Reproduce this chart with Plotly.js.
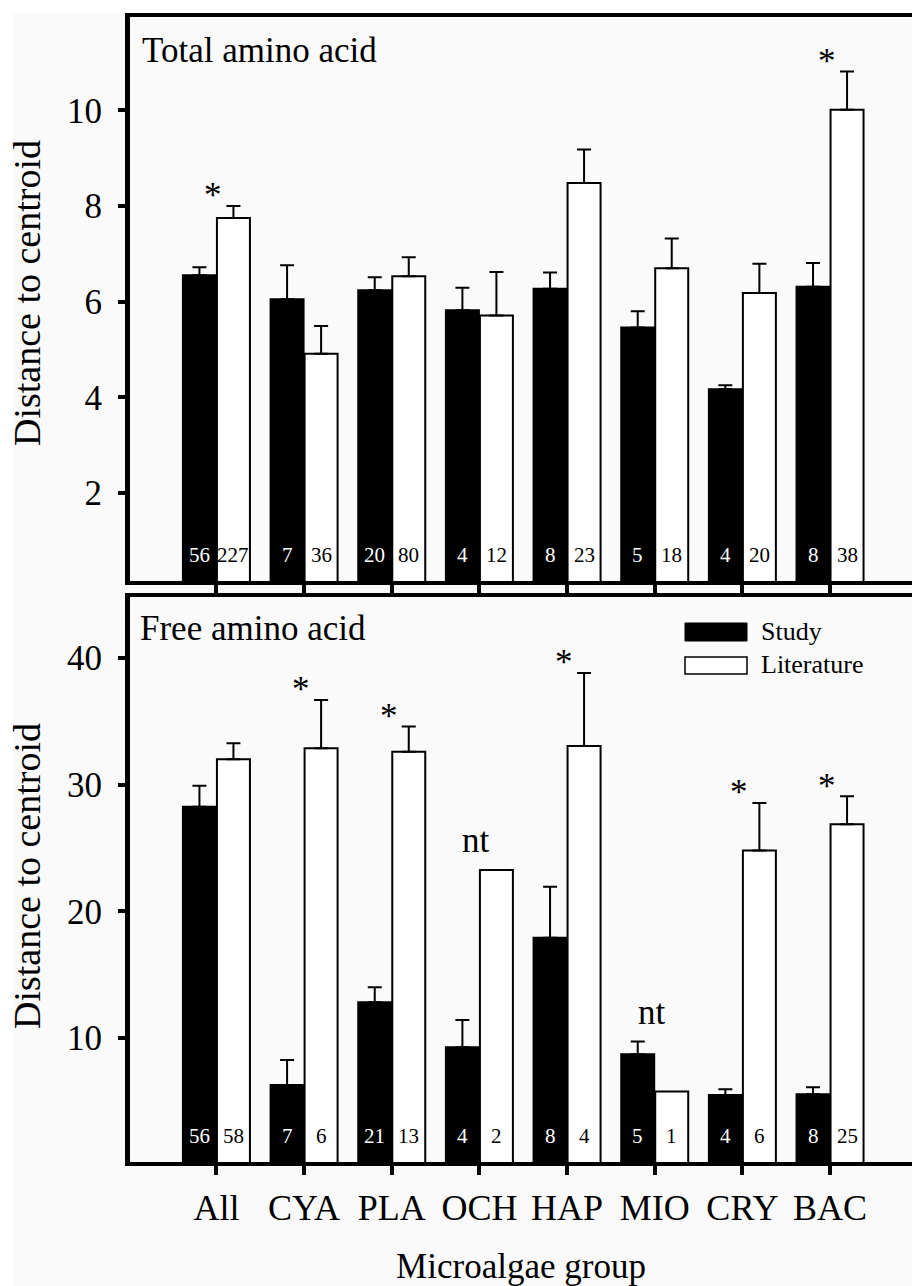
<!DOCTYPE html>
<html>
<head>
<meta charset="utf-8">
<script src="https://cdn.plot.ly/plotly-3.0.1.min.js"></script>
<style>
  html, body { margin: 0; padding: 0; background: #ffffff; }
  #chart { position: absolute; left: 0; top: 0; width: 912px; height: 1286px; }
</style>
</head>
<body>
<div id="chart"></div>
<script>
// ---------------- data ----------------
const groups = ["All", "CYA", "PLA", "OCH", "HAP", "MIO", "CRY", "BAC"];
const seriesNames = ["Study", "Literature"];

const totalStudyMean = [6.55, 6.05, 6.24, 5.82, 6.27, 5.46, 4.17, 6.31];
const totalStudyErr  = [0.17, 0.71, 0.27, 0.47, 0.34, 0.34, 0.08, 0.50];
const totalLitMean   = [7.75, 4.91, 6.53, 5.71, 8.48, 6.70, 6.18, 10.01];
const totalLitErr    = [0.25, 0.58, 0.40, 0.91, 0.70, 0.62, 0.61, 0.80];
const totalStudyN    = [56, 7, 20, 4, 8, 5, 4, 8];
const totalLitN      = [227, 36, 80, 12, 23, 18, 20, 38];
const totalSig       = ["*", "", "", "", "", "", "", "*"];
const totalTicks     = [2, 4, 6, 8, 10];

const freeStudyMean  = [28.27, 6.29, 12.82, 9.27, 17.92, 8.71, 5.50, 5.55];
const freeStudyErr   = [1.66, 1.97, 1.18, 2.15, 4.03, 1.00, 0.45, 0.55];
const freeLitMean    = [32.01, 32.88, 32.60, 23.27, 33.06, 5.76, 24.80, 26.88];
const freeLitErr     = [1.27, 3.82, 2.00, null, 5.77, null, 3.76, 2.22];
const freeStudyN     = [56, 7, 21, 4, 8, 5, 4, 8];
const freeLitN       = [58, 6, 13, 2, 4, 1, 6, 25];
const freeSig        = ["", "*", "*", "nt", "*", "nt", "*", "*"];
const freeTicks      = [10, 20, 30, 40];

const panelTitles = ["Total amino acid", "Free amino acid"];
const yTitle = "Distance to centroid";
const xTitle = "Microalgae group";

// ---------------- layout helpers ----------------
const FONT = "'Times New Roman', 'Liberation Serif', serif";
const W = 912, H = 1286, ML = 130, MR = 0, MT = 17, MB = 124;
const PW = W - ML - MR, PH = H - MT - MB;
function pxX(pageX) { return (pageX - ML) / PW; }
function pxY(pageY) { return (H - MB - pageY) / PH; }

function errCfg(errs) {
  return {
    type: "data", symmetric: false,
    array: errs.map(e => (e === null ? NaN : e)),
    arrayminus: errs.map(e => (e === null ? NaN : 0)),
    color: "#000", thickness: 2, width: 7
  };
}

function barTrace(name, means, errs, xa, ya, fill) {
  return {
    type: "bar", name: name, x: groups, y: means,
    xaxis: xa, yaxis: ya, showlegend: false,
    marker: { color: fill, line: { color: "#000", width: 2 } },
    error_y: errCfg(errs), hoverinfo: "x+y"
  };
}

const traces = [
  barTrace(seriesNames[0], totalStudyMean, totalStudyErr, "x", "y", "#000000"),
  barTrace(seriesNames[1], totalLitMean, totalLitErr, "x", "y", "#ffffff"),
  barTrace(seriesNames[0], freeStudyMean, freeStudyErr, "x2", "y2", "#000000"),
  barTrace(seriesNames[1], freeLitMean, freeLitErr, "x2", "y2", "#ffffff")
];

const annotations = [];
const BAR_OFF = 17;
function addN(studyN, litN, xref, yref) {
  groups.forEach((g, i) => {
    annotations.push({ x: g, xref: xref, xshift: -BAR_OFF, y: 0, yref: yref + " domain",
      yshift: 26, yanchor: "middle", text: String(studyN[i]), showarrow: false,
      font: { family: FONT, size: 21, color: "#ffffff" } });
    annotations.push({ x: g, xref: xref, xshift: BAR_OFF, y: 0, yref: yref + " domain",
      yshift: 26, yanchor: "middle", text: String(litN[i]), showarrow: false,
      font: { family: FONT, size: 21, color: "#000000" } });
  });
}
function addSig(sig, sm, se, lm, le, xref, yref) {
  groups.forEach((g, i) => {
    if (!sig[i]) return;
    const top = Math.max(sm[i] + (se[i] || 0), lm[i] + (le[i] || 0));
    annotations.push({ x: g, xref: xref, xshift: -3, y: top, yref: yref,
      yshift: sig[i] === "*" ? 10 : 29, yanchor: "middle", text: sig[i], showarrow: false,
      font: { family: FONT, size: 35, color: "#000" } });
  });
}
addN(totalStudyN, totalLitN, "x", "y");
addN(freeStudyN, freeLitN, "x2", "y2");
addSig(totalSig, totalStudyMean, totalStudyErr, totalLitMean, totalLitErr, "x", "y");
addSig(freeSig, freeStudyMean, freeStudyErr, freeLitMean, freeLitErr, "x2", "y2");

// panel titles
annotations.push({ xref: "paper", yref: "paper", x: pxX(140), y: pxY(50), xanchor: "left", yanchor: "middle",
  text: panelTitles[0], showarrow: false, font: { family: FONT, size: 35, color: "#000" } });
annotations.push({ xref: "paper", yref: "paper", x: pxX(138), y: pxY(628), xanchor: "left", yanchor: "middle",
  text: panelTitles[1], showarrow: false, font: { family: FONT, size: 35, color: "#000" } });

// y-axis titles (rotated text, left of the tick labels)
[293, 876].forEach(cy => {
  annotations.push({ xref: "paper", yref: "paper", x: pxX(27), y: pxY(cy), xanchor: "center", yanchor: "middle",
    textangle: -90, text: yTitle, showarrow: false, font: { family: FONT, size: 38, color: "#000" } });
});

// legend (drawn manually to reproduce wide swatches) + white page border strips
const shapes = [
  { type: "rect", xref: "paper", yref: "paper", layer: "below", x0: pxX(0), x1: pxX(13), y0: pxY(H), y1: pxY(0),
    fillcolor: "#ffffff", line: { width: 0 } },
  { type: "rect", xref: "paper", yref: "paper", layer: "below", x0: pxX(0), x1: pxX(W), y0: pxY(13), y1: pxY(0),
    fillcolor: "#ffffff", line: { width: 0 } },
  { type: "rect", xref: "paper", yref: "paper", x0: pxX(685), x1: pxX(747), y0: pxY(641), y1: pxY(623),
    fillcolor: "#000", line: { color: "#000", width: 1 } },
  { type: "rect", xref: "paper", yref: "paper", x0: pxX(685), x1: pxX(747), y0: pxY(674), y1: pxY(657),
    fillcolor: "#fff", line: { color: "#000", width: 1.5 } }
];
annotations.push({ xref: "paper", yref: "paper", x: pxX(759), y: pxY(631), xanchor: "left", yanchor: "middle",
  text: seriesNames[0], showarrow: false, font: { family: FONT, size: 26, color: "#000" } });
annotations.push({ xref: "paper", yref: "paper", x: pxX(759), y: pxY(664.5), xanchor: "left", yanchor: "middle",
  text: seriesNames[1], showarrow: false, font: { family: FONT, size: 26, color: "#000" } });

function xAxis(showLabels, anchor) {
  const a = {
    type: "category", anchor: anchor, domain: [0, 1], range: [-0.986, 7.935],
    showline: true, linecolor: "#000", linewidth: 4, mirror: true,
    ticks: "outside", ticklen: 9, tickwidth: 4, tickcolor: "#000",
    showgrid: false, zeroline: false, showticklabels: showLabels,
    tickfont: { family: FONT, size: 36, color: "#000" }, fixedrange: true
  };
  if (showLabels) {
    a.ticklabelstandoff = 2;
    a.title = { text: xTitle, font: { family: FONT, size: 35, color: "#000" }, standoff: 32 };
  }
  return a;
}
function yAxis(domain, range, ticks, anchor) {
  return {
    domain: domain, range: range, anchor: anchor, tickmode: "array", tickvals: ticks,
    showline: true, linecolor: "#000", linewidth: 5, mirror: false,
    ticks: "outside", ticklen: 7, tickwidth: 4, tickcolor: "#000",
    showgrid: false, zeroline: false, ticklabelstandoff: 9,
    tickfont: { family: FONT, size: 35, color: "#000" },
    fixedrange: true
  };
}

const layout = {
  width: W, height: H,
  margin: { l: ML, r: MR, t: MT, b: MB, pad: 0 },
  paper_bgcolor: "#fafafa", plot_bgcolor: "#fafafa",
  font: { family: FONT, color: "#000" },
  barmode: "group", bargap: 0.224, bargroupgap: 0.03,
  showlegend: false,
  xaxis: xAxis(false, "y"),
  yaxis: yAxis([pxY(581), pxY(17)], [0.16, 11.95], totalTicks, "x"),
  xaxis2: xAxis(true, "y2"),
  yaxis2: yAxis([pxY(1162), pxY(597)], [0.2, 44.83], freeTicks, "x2"),
  annotations: annotations, shapes: shapes
};

Plotly.newPlot("chart", traces, layout, { displayModeBar: false, staticPlot: true });
</script>
</body>
</html>
